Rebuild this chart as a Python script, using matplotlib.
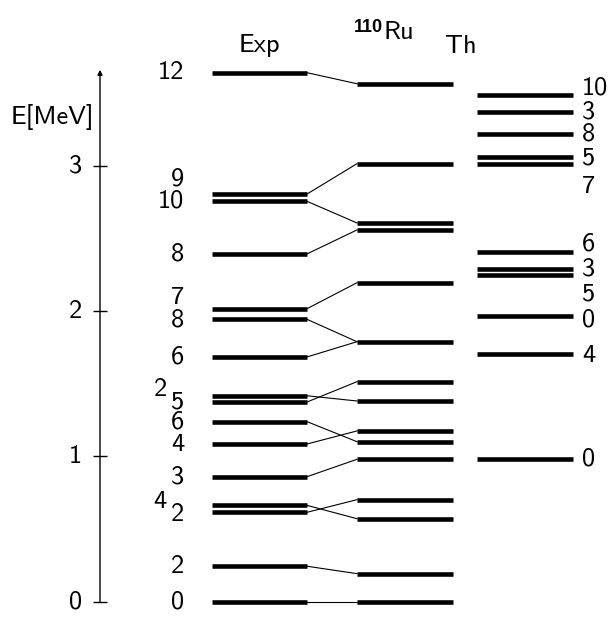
import numpy as np
from matplotlib import pyplot as plt

plt.rcParams['font.family'] = ['cmss10', 'DejaVu Sans']
plt.rcParams['axes.unicode_minus'] = False

# experimental levels of 110Ru (MeV) and spins
exp_E = [0.0, 0.244, 0.615, 0.663, 0.860, 1.085, 1.239, 1.374, 1.417, 1.684,
         1.943, 2.016, 2.393, 2.755, 2.805, 3.640]
exp_J = ['0', '2', '2', '4', '3', '4', '6', '5', '2', '6', '8', '7', '8', '10', '9', '12']

# theory levels matched to the experimental ones
th_E = [0.0, 0.193, 0.571, 0.702, 0.980, 1.101, 1.175, 1.381, 1.514, 1.789,
        2.195, 2.558, 2.606, 3.014, 3.564]
# index into th_E for each exp level
exp_to_th = [0, 1, 3, 2, 4, 6, 5, 8, 7, 9, 9, 10, 11, 12, 13, 14]

# extra theory levels (right column)
extra_E = [0.980, 1.704, 1.966, 2.250, 2.289, 2.404, 3.012, 3.058, 3.218, 3.372, 3.484]
extra_J = ['0', '4', '0', '5', '3', '6', '7', '5', '8', '3', '10']

yticks = [0, 1, 2, 3]

# label nudges in pixels so the spins don't sit on top of each other
exp_dx = [0, 0, 0, -17, 0, 0, 0, 0, -17, 0, 0, 0, 0, 0, 0, 0]
exp_dy = [0, 0, -2, 4, 0, 0, 0, 0, 6, 0, -1, 11, 0, 0, 15, 0]
extra_dy = [0, -1, -4, -19, 0, 8, -23, -1, 0, 0, 7]

# column extents (pixel-like x units)
exp_x = (212, 307)
th_x = (357, 453)
ex_x = (477, 573)
axis_x = 100

fig = plt.figure(figsize=(6.11, 6.17), dpi=100)
ax = fig.add_axes([0, 0, 1, 1])
ax.set_xlim(0, 611)
ax.set_ylim(-0.1053, 4.1402)
ax.axis('off')

fs = 19
bar_lw = 3.3

# energy axis with arrow
ax.annotate('', xy=(axis_x, 3.66), xytext=(axis_x, 0.0),
            arrowprops=dict(arrowstyle='-|>', lw=1.0, color='k', mutation_scale=7,
                            shrinkA=0, shrinkB=0))
ax.hlines(yticks, axis_x - 7, axis_x + 7, colors='k', lw=1.0)
for t in yticks:
    ax.text(82, t, str(t), ha='right', va='center', fontsize=fs)
ax.text(52, (601.7 - 117) / 145.33, 'E[MeV]', ha='center', va='center', fontsize=fs)

# experimental levels
ax.hlines(exp_E, exp_x[0], exp_x[1], colors='k', lw=bar_lw)
for e, j, dx, dy in zip(exp_E, exp_J, exp_dx, exp_dy):
    ax.annotate(j, (184, e), xytext=(dx, dy), textcoords='offset pixels',
                ha='right', va='center', fontsize=fs)

# theory levels
ax.hlines(th_E, th_x[0], th_x[1], colors='k', lw=bar_lw)
for e, k in zip(exp_E, exp_to_th):
    ax.plot([exp_x[1], th_x[0]], [e, th_E[k]], color='k', lw=0.8)

# right column
ax.hlines(extra_E, ex_x[0], ex_x[1], colors='k', lw=bar_lw)
for e, j, dy in zip(extra_E, extra_J, extra_dy):
    ax.annotate(j, (582, e), xytext=(0, dy), textcoords='offset pixels',
                ha='left', va='center', fontsize=fs)

# headers
ax.text(259, (601.7 - 46) / 145.33, 'Exp', ha='center', va='center', fontsize=fs)
ax.text(461, (601.7 - 47) / 145.33, 'Th', ha='center', va='center', fontsize=fs)
ax.text(383, (601.7 - 28) / 145.33, '110', ha='right', va='center', fontsize=13,
        fontweight='bold', family='Liberation Sans')
ax.text(384, (601.7 - 33) / 145.33, 'Ru', ha='left', va='center', fontsize=fs)

fig.savefig('out.png', dpi=100)
